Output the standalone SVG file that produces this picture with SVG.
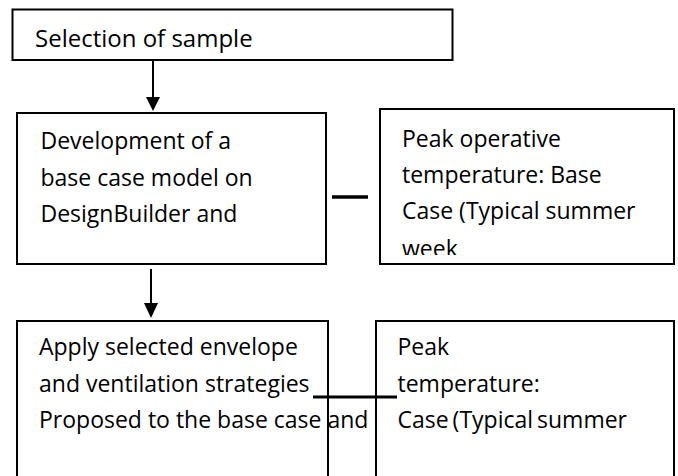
<svg xmlns="http://www.w3.org/2000/svg" width="678" height="476" viewBox="0 0 678 476">
<style>
.box{fill:#fff;stroke:#000;stroke-width:2}
.t{font-family:"Open Sans",Lato,sans-serif;font-size:23px;fill:#000}
.ln{stroke:#000;fill:none}
</style>
<defs>
<clipPath id="c3"><rect x="380" y="109" width="294" height="146"/></clipPath>
</defs>
<rect width="678" height="476" fill="#fff"/>
<g id="n1">
<rect class="box" x="12.5" y="9.5" width="440" height="50.5"/>
<text class="t" x="35" y="47" style="font-size:24px">Selection of sample</text>
</g>
<g id="n2">
<rect class="box" x="17" y="113" width="309" height="151"/>
<text class="t" x="40.5" y="149">Development of a</text>
<text class="t" x="40.5" y="186">base case model on</text>
<text class="t" x="40.5" y="222">DesignBuilder and</text>
</g>
<g id="n3">
<rect class="box" x="380" y="109" width="294" height="155"/>
<g clip-path="url(#c3)">
<text class="t" x="402" y="147">Peak operative</text>
<text class="t" x="402" y="182.5">temperature: Base</text>
<text class="t" x="402" y="218.5">Case (Typical summer</text>
<text class="t" x="402" y="257">week</text>
</g>
</g>
<g id="n4">
<rect class="box" x="17" y="321" width="311" height="170"/>
<text class="t" x="39" y="355">Apply selected envelope</text>
<text class="t" x="39" y="391.5">and ventilation strategies</text>
<text class="t" x="39" y="428">Proposed to the base case and</text>
</g>
<g id="n5">
<rect class="box" x="376" y="321" width="298" height="170"/>
<text class="t" x="397.5" y="355">Peak</text>
<text class="t" x="397.5" y="392">temperature:</text>
<text class="t" x="397.5" y="428" word-spacing="-2">Case (Typical summer</text>
</g>
<g id="connectors">
<line class="ln" x1="153" y1="60" x2="153" y2="98" stroke-width="2"/>
<polygon points="146,97 160,97 153,111"/>
<line class="ln" x1="151" y1="269" x2="151" y2="304" stroke-width="2"/>
<polygon points="144,303 158,303 151,318"/>
<line class="ln" x1="332" y1="197" x2="368" y2="197" stroke-width="3.5"/>
<line class="ln" x1="313" y1="397" x2="397" y2="397" stroke-width="3"/>
</g>
</svg>
